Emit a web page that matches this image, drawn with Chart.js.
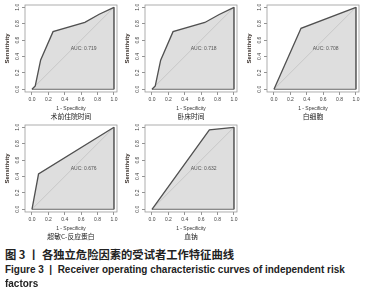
<!DOCTYPE html>
<html>
<head>
<meta charset="utf-8">
<script src="https://cdn.jsdelivr.net/npm/chart.js@4.4.0/dist/chart.umd.min.js"></script>
<style>
body { margin: 0; background: #fff; }
#page { position: relative; width: 371px; height: 300px; overflow: hidden; background: #fff; }
.panel { position: absolute; width: 124px; height: 122px; }
.cap { position: absolute; left: 5px; white-space: nowrap; color: #222; font-weight: bold; transform-origin: 0 50%; }
.en { font: bold 11px 'Liberation Sans', Arial, sans-serif; }
</style>
</head>
<body>
<div id="page">
  <canvas id="roc1" class="panel" width="124" height="122" style="left:0px;top:0px"></canvas>
  <canvas id="roc2" class="panel" width="124" height="122" style="left:120px;top:0px"></canvas>
  <canvas id="roc3" class="panel" width="124" height="122" style="left:242px;top:0px"></canvas>
  <canvas id="roc4" class="panel" width="124" height="122" style="left:0px;top:120px"></canvas>
  <canvas id="roc5" class="panel" width="124" height="122" style="left:120px;top:120px"></canvas>
  <div class="cap" id="capZh" style="top:246px;font:bold 11.3px 'Noto Sans CJK SC';color:#222">图 3 丨 各独立危险因素的受试者工作特征曲线</div>
  <div class="cap en" id="capEn1" style="top:263px">Figure 3&nbsp; |&nbsp; Receiver operating characteristic curves of independent risk</div>
  <div class="cap en" id="capEn2" style="top:277px">factors</div>
</div>
<script>
// values
const tickValues = [0, 0.2, 0.4, 0.6, 0.8, 1.0];
const rocTitles = ['术前住院时间', '卧床时间', '白细胞', '超敏C-反应蛋白', '血钠'];
const aucLabels = ['AUC: 0.719', 'AUC: 0.718', 'AUC: 0.708', 'AUC: 0.676', 'AUC: 0.632'];

const fpr1 = [0, 0.04, 0.106, 0.257, 0.645, 0.82, 1];
const tpr1 = [0, 0.04, 0.358, 0.703, 0.817, 0.915, 1];
const fpr2 = [0, 0.04, 0.106, 0.257, 0.645, 0.82, 1];
const tpr2 = [0, 0.04, 0.355, 0.703, 0.815, 0.912, 1];
const fpr3 = [0, 0.33, 1];
const tpr3 = [0, 0.744, 1];
const fpr4 = [0, 0.08, 1];
const tpr4 = [0, 0.43, 1];
const fpr5 = [0, 0.70, 1];
const tpr5 = [0, 0.97, 1];

Chart.defaults.font.family = "'Liberation Sans', Arial, sans-serif";

const toPoints = (xs, ys) => xs.map((x, i) => ({ x: x, y: ys[i] }));

const boxPlugin = {
    id: 'box',
    afterDraw(chart) {
        const a = chart.chartArea;
        const ctx = chart.ctx;
        ctx.save();
        ctx.strokeStyle = '#9a9a9a';
        ctx.lineWidth = 0.8;
        ctx.strokeRect(a.left, a.top, a.right - a.left, a.bottom - a.top);
        ctx.restore();
    },
};

const aucPlugin = {
    id: 'auc',
    afterDatasetsDraw(chart, args, opts) {
        const ctx = chart.ctx;
        ctx.save();
        ctx.font = '5px "Liberation Sans", Arial, sans-serif';
        ctx.fillStyle = '#555';
        ctx.textAlign = 'center';
        ctx.textBaseline = 'middle';
        ctx.fillText(opts.text, chart.scales.x.getPixelForValue(0.63), chart.scales.y.getPixelForValue(0.49));
        ctx.restore();
    },
};

function makeRoc(id, title, auc, fpr, tpr) {
    const axisGrid = {
        drawOnChartArea: false,
        drawTicks: true,
        tickLength: 3,
        color: '#777',
        lineWidth: 0.8,
    };
    return new Chart(document.getElementById(id), {
        type: 'line',
        data: {
            datasets: [
                {
                    data: toPoints(fpr, tpr),
                    borderColor: '#505050',
                    borderWidth: 1.3,
                    backgroundColor: '#dedede',
                    fill: 'origin',
                    pointRadius: 0,
                },
                {
                    data: toPoints([1, 1, 0], [1, 0, 0]),
                    borderColor: '#6a6a6a',
                    borderWidth: 1,
                    fill: false,
                    pointRadius: 0,
                },
                {
                    data: toPoints([0, 1], [0, 1]),
                    borderColor: '#c2c2c2',
                    borderWidth: 0.8,
                    fill: false,
                    pointRadius: 0,
                },
            ],
        },
        options: {
            responsive: false,
            devicePixelRatio: 1,
            animation: false,
            layout: { padding: { left: 0, top: 5, right: 7, bottom: 0 } },
            plugins: {
                legend: { display: false },
                tooltip: { enabled: false },
                filler: { drawTime: 'beforeDatasetsDraw' },
                title: {
                    display: true,
                    text: title,
                    position: 'bottom',
                    fullSize: false,
                    color: '#222',
                    font: { family: "'Noto Sans CJK SC'", size: 6.8, weight: 'normal', lineHeight: 1.4 },
                    padding: { top: 0, bottom: 1 },
                },
                auc: { text: auc },
            },
            scales: {
                x: {
                    type: 'linear',
                    min: -0.085,
                    max: 1.037,
                    afterBuildTicks: s => { s.ticks = tickValues.map(v => ({ value: v })); },
                    afterFit: s => { s.height = 19.5; },
                    grid: axisGrid,
                    border: { display: false },
                    ticks: {
                        font: { size: 5 },
                        color: '#444',
                        padding: 2,
                        maxRotation: 0,
                        callback: v => v.toFixed(1),
                    },
                    title: {
                        display: true,
                        text: '1 - Specificity',
                        font: { size: 5 },
                        color: '#333',
                        padding: { top: 0, bottom: 0 },
                    },
                },
                y: {
                    type: 'linear',
                    min: -0.033,
                    max: 1.028,
                    afterBuildTicks: s => { s.ticks = tickValues.map(v => ({ value: v })); },
                    afterFit: s => { s.width = 25; },
                    grid: axisGrid,
                    border: { display: false },
                    ticks: {
                        font: { size: 5 },
                        color: '#444',
                        padding: 0.5,
                        minRotation: 90,
                        maxRotation: 90,
                        crossAlign: 'center',
                        callback: v => v.toFixed(1),
                    },
                    title: {
                        display: true,
                        text: 'Sensitivity',
                        font: { size: 6, weight: 'bold' },
                        color: '#3a302b',
                        padding: { top: 3.7, bottom: 0 },
                    },
                },
            },
        },
        plugins: [boxPlugin, aucPlugin],
    });
}

makeRoc('roc1', rocTitles[0], aucLabels[0], fpr1, tpr1);
makeRoc('roc2', rocTitles[1], aucLabels[1], fpr2, tpr2);
makeRoc('roc3', rocTitles[2], aucLabels[2], fpr3, tpr3);
makeRoc('roc4', rocTitles[3], aucLabels[3], fpr4, tpr4);
makeRoc('roc5', rocTitles[4], aucLabels[4], fpr5, tpr5);

// squeeze the english caption to the width it has in the figure
const en1 = document.getElementById('capEn1');
const squeeze = 340 / en1.scrollWidth;
for (const el of document.querySelectorAll('.en')) {
    el.style.transform = 'scaleX(' + squeeze + ')';
}
</script>
</body>
</html>
